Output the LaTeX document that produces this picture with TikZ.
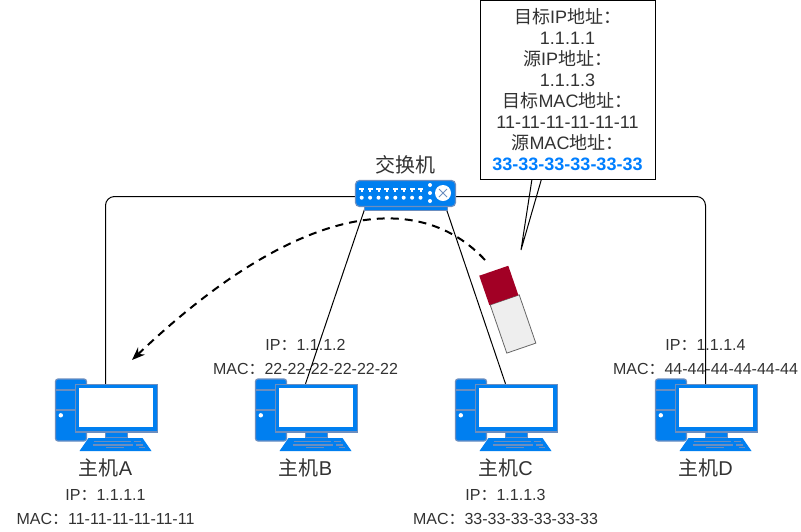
\documentclass[tikz,border=0pt]{standalone}
\usepackage{fontspec}
\setmainfont{Liberation Sans}
\newfontfamily\cjk{Noto Sans CJK SC}
\newcommand{\zh}[1]{{\cjk #1}}
\usetikzlibrary{positioning}
\usetikzlibrary{arrows.meta}
\definecolor{iconblue}{RGB}{0,127,240}
\definecolor{iconedge}{RGB}{108,142,191}
\definecolor{packetred}{RGB}{162,0,37}
\definecolor{packetgrey}{RGB}{238,238,238}
\definecolor{macblue}{RGB}{0,127,255}
\definecolor{labelgrey}{RGB}{50,50,50}

\begin{document}
\begin{tikzpicture}[
		x=1pt, y=-1pt,
		link/.style={draw=black, line width=1pt},
		flight/.style={-{Stealth[length=13pt,width=10pt]}, line width=2pt, dash pattern=on 8pt off 6pt},
		hostbox/.style={rectangle, inner sep=0pt, minimum width=100pt, minimum height=67pt},
		hostname/.style={inner sep=0pt, font=\fontsize{20}{20}\selectfont, text=labelgrey, text height=14pt, text depth=4pt},
		hostaddr/.style={inner sep=0pt, font=\fontsize{16}{16}\selectfont, text=labelgrey, text height=11pt, text depth=3pt},
		switchbox/.style={rectangle, draw=iconedge, fill=iconblue, line width=1.2pt, rounded corners=4pt, minimum width=100pt, minimum height=26pt, inner sep=0pt},
		bubble/.style={rectangle, draw=black, fill=white, line width=1pt, inner sep=0pt, minimum width=175pt, minimum height=179pt, align=center, text=labelgrey, font=\fontsize{18}{21}\selectfont},
		packethead/.style={rectangle, fill=packetred, inner sep=0pt, minimum width=30.7pt, minimum height=31pt, rotate=19},
		packetbody/.style={rectangle, draw=black!60, fill=packetgrey, line width=0.8pt, inner sep=0pt, minimum width=30.7pt, minimum height=51pt, rotate=19},
		pc/.pic={
			\draw[fill=iconblue, draw=iconedge, line width=1.2pt, rounded corners=2.5pt] (-50,-38.5) rectangle (-19,23.5);
			\draw[iconedge, line width=1.2pt] (-50,-27.5) -- (-19,-27.5) (-50,-7.5) -- (-19,-7.5);
			\fill[white] (-44.7,-2.2) circle (2.2pt);
			\draw[fill=iconblue, draw=iconedge, line width=1.2pt] (0,14.5) rectangle (22,20.5);
			\draw[fill=iconblue, draw=iconedge, line width=1.2pt] (-30,-33) rectangle (52,14.5);
			\fill[white] (-27,-29.5) rectangle (47,9.5);
			\fill[iconblue] (-26,33.5) -- (46,33.5) -- (37,20.5) -- (-17,20.5) -- cycle;
			\draw[iconedge, line width=1.2pt] (-12,24.2) -- (25,24.2) (28,24.2) -- (35,24.2) (-13,27.5) -- (27,27.5) (30,27.5) -- (37,27.5) (0,30.2) -- (18,30.2) (33,30.2) -- (39,30.2);
		}
	]
		\useasboundingbox (0,0) rectangle (801,531);

		% hosts
		\node[hostbox] (hostA) at (105.5,417.5) {};
		\node[hostbox] (hostB) at (305.5,417.5) {};
		\node[hostbox] (hostC) at (505.5,417.5) {};
		\node[hostbox] (hostD) at (705.5,417.5) {};
		\pic at (hostA) {pc};
		\pic at (hostB) {pc};
		\pic at (hostC) {pc};
		\pic at (hostD) {pc};

		\node[hostname, below=10.5pt of hostA] (nameA) {\zh{主机}A};
		\node[hostaddr, below=9.5pt of nameA] (ipA) {IP\zh{：}1.1.1.1};
		\node[hostaddr, below=9.5pt of ipA] (macA) {MAC\zh{：}11-11-11-11-11-11};

		\node[hostname, below=10.5pt of hostB] (nameB) {\zh{主机}B};
		\node[hostaddr, above=6.5pt of hostB] (macB) {MAC\zh{：}22-22-22-22-22-22};
		\node[hostaddr, above=9.5pt of macB] (ipB) {IP\zh{：}1.1.1.2};

		\node[hostname, below=10.5pt of hostC] (nameC) {\zh{主机}C};
		\node[hostaddr, below=9.5pt of nameC] (ipC) {IP\zh{：}1.1.1.3};
		\node[hostaddr, below=9.5pt of ipC] (macC) {MAC\zh{：}33-33-33-33-33-33};

		\node[hostname, below=10.5pt of hostD] (nameD) {\zh{主机}D};
		\node[hostaddr, above=6.5pt of hostD] (macD) {MAC\zh{：}44-44-44-44-44-44};
		\node[hostaddr, above=9.5pt of macD] (ipD) {IP\zh{：}1.1.1.4};

		% switch
		\coordinate (switchpos) at (405.5,193.5);
		\coordinate (trunk) at (405.5,196.5);
		\coordinate (portB) at (365,208);
		\coordinate (portC) at (446,208);
		\draw[link, rounded corners=9pt] (trunk) -| (hostA.north);
		\draw[link, rounded corners=9pt] (trunk) -| (hostD.north);
		\draw[link] (portB) -- (hostB.north);
		\draw[link] (portC) -- (hostC.north);
		\draw[fill=iconblue, draw=iconedge, line width=1pt] (364,205) rectangle (447,210.5);
		\node[switchbox] (switch) at (switchpos) {};
		\foreach \px in {0,...,7} {
			\fill[white] ([shift={(\px*8.4-46.3,-5.2)}]switch.center) rectangle +(5,2);
			\fill[white] ([shift={(\px*8.4-44.8,-3.2)}]switch.center) rectangle +(2,1.8);
			\fill[white] ([shift={(\px*8.4-43.8,4.2)}]switch.center) circle (2pt);
		}
		\fill[white] ([shift={(24.5,-8.5)}]switch.center) circle (2pt);
		\fill[white] ([shift={(24.5,-0.5)}]switch.center) circle (2pt);
		\fill[white] ([shift={(24.5,7.5)}]switch.center) circle (2pt);
		\fill[white] ([shift={(37.5,-0.5)}]switch.center) circle (8pt);
		\draw[iconedge, line width=0.8pt] ([shift={(33.5,-4.5)}]switch.center) -- ([shift={(41.5,3.5)}]switch.center);
		\draw[iconedge, line width=0.8pt] ([shift={(41.5,-4.5)}]switch.center) -- ([shift={(33.5,3.5)}]switch.center);
		\node[hostname, above=3pt of switch] (switchname) {\zh{交换机}};

		% packet
		\node[packetbody] (body) at (513,324) {};
		\node[packethead] (head) at (498.8,285.4) {};
		\coordinate (flightstart) at (485,260);
		\coordinate (flightend) at (132,360);
		\draw[flight] (flightstart) .. controls (420,190) and (300,200) .. (flightend);

		% bubble
		\coordinate (tailleft) at (532,179);
		\coordinate (tailtip) at (521,250);
		\coordinate (tailright) at (541.5,179);
		\draw[link, line join=miter] (tailleft) -- (tailtip) -- (tailright);
		\node[bubble] (frame) at (567.5,90) {\zh{目标}IP\zh{地址：}\\1.1.1.1\\\zh{源}IP\zh{地址：}\\1.1.1.3\\\zh{目标}MAC\zh{地址：}\\11-11-11-11-11-11\\\zh{源}MAC\zh{地址：}\\\textcolor{macblue}{\bfseries 33-33-33-33-33-33}};
	\end{tikzpicture}
\end{document}
